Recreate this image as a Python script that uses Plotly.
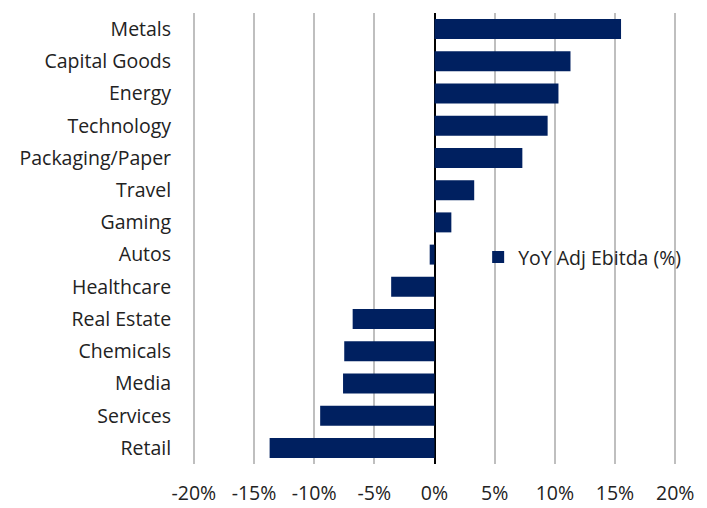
import plotly.graph_objects as go

categories = ["Metals", "Capital Goods", "Energy", "Technology", "Packaging/Paper",
              "Travel", "Gaming", "Autos", "Healthcare", "Real Estate",
              "Chemicals", "Media", "Services", "Retail"]
yoy_adj_ebitda = [15.5, 11.3, 10.3, 9.4, 7.3, 3.3, 1.4, -0.4, -3.6, -6.8, -7.5, -7.6, -9.5, -13.7]
x_ticks = [-20, -15, -10, -5, 0, 5, 10, 15, 20]
x_tick_labels = ["-20%", "-15%", "-10%", "-5%", "0%", "5%", "10%", "15%", "20%"]
series_name = "YoY Adj Ebitda (%)"

FONT = "Open Sans"
FS = 19.5
TXT = "#222222"

fig = go.Figure()
fig.add_trace(go.Bar(
    x=yoy_adj_ebitda,
    y=categories,
    orientation="h",
    name=series_name,
    marker=dict(color="#002060", line=dict(width=0)),
    showlegend=True,
))

fig.update_layout(
    width=707, height=508,
    margin=dict(l=192, r=30, t=13, b=44, autoexpand=False),
    paper_bgcolor="white", plot_bgcolor="white",
    font=dict(family=FONT, size=FS, color=TXT),
    bargap=0.38,
    showlegend=True,
    legend=dict(x=0.59, y=0.458, xanchor="left", yanchor="middle",
                bgcolor="rgba(0,0,0,0)", font=dict(family=FONT, size=FS, color=TXT)),
    xaxis=dict(
        range=[-20.15, 20.15], tickvals=x_ticks, ticktext=x_tick_labels,
        showgrid=True, gridcolor="#bfbfbf", gridwidth=2,
        zeroline=True, zerolinecolor="#000000", zerolinewidth=1.5,
        showline=False, automargin=False,
        ticks="outside", ticklen=12, tickcolor="rgba(0,0,0,0)",
        tickfont=dict(family=FONT, size=FS, color=TXT),
        fixedrange=True,
    ),
    yaxis=dict(
        autorange="reversed",
        showgrid=False, showline=False, zeroline=False, automargin=False,
        ticks="outside", ticklen=16, tickcolor="rgba(0,0,0,0)",
        tickfont=dict(family=FONT, size=FS, color=TXT),
        fixedrange=True,
    ),
)

fig.write_html("out.html", config={"displayModeBar": False},
               post_script="document.body.style.margin='0';")
